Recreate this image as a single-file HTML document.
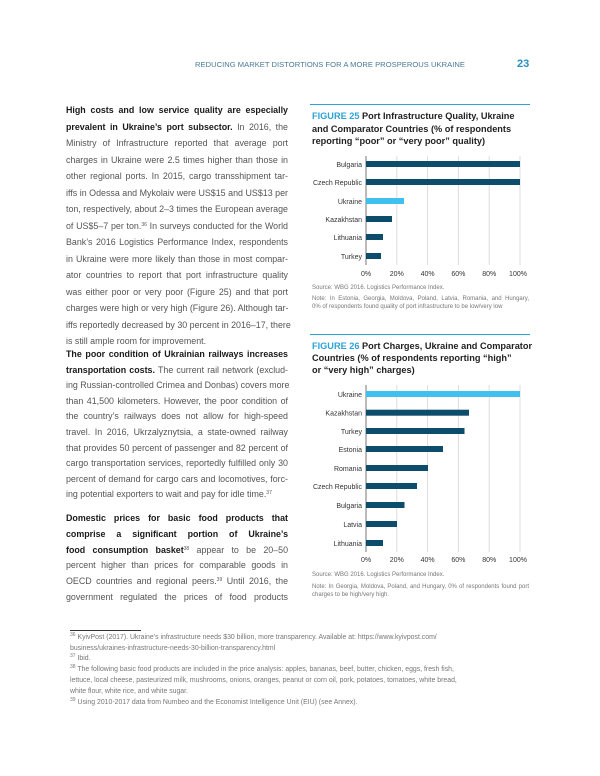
<!DOCTYPE html>
<html><head><meta charset="utf-8"><style>
body{margin:0;width:600px;height:776px;background:#fff;position:relative;overflow:hidden;font-family:"Liberation Sans",sans-serif}
.a{position:absolute;white-space:nowrap}
.l{position:absolute;left:66px;width:222px;font-size:8.9px;color:#555;text-align:justify;text-align-last:justify;white-space:nowrap;line-height:12px}
.l.e{text-align-last:left}
.l b{color:#1a1a1a}
.t{position:absolute;left:312px;width:218px;font-size:9.2px;font-weight:bold;color:#222;line-height:12px;white-space:nowrap}
.t span{color:#2ba3d6}
.s{position:absolute;left:312px;width:217px;font-size:6px;color:#777;white-space:nowrap;text-align:justify;text-align-last:justify}
.s.e{text-align-last:left}
.fn{position:absolute;left:70px;font-size:6.9px;color:#777;white-space:nowrap}
sup{font-size:5px;position:relative;top:-3px;vertical-align:baseline;line-height:0}
</style></head><body>
<div class="a" style="left:195px;top:60px;font-size:7.6px;letter-spacing:0.02px;color:#4a7a95">REDUCING MARKET DISTORTIONS FOR A MORE PROSPEROUS UKRAINE</div>
<div class="a" style="left:517px;top:58px;font-size:11px;font-weight:bold;color:#2a8fc0">23</div>

<div class="l" style="top:104px"><b>High costs and low service quality are especially</b></div>
<div class="l" style="top:120.5px"><b>prevalent in Ukraine’s port subsector.</b> In 2016, the</div>
<div class="l" style="top:137px">Ministry of Infrastructure reported that average port</div>
<div class="l" style="top:153.5px">charges in Ukraine were 2.5 times higher than those in</div>
<div class="l" style="top:170px">other regional ports. In 2015, cargo transshipment tar-</div>
<div class="l" style="top:186.5px">iffs in Odessa and Mykolaiv were US$15 and US$13 per</div>
<div class="l" style="top:203px">ton, respectively, about 2–3 times the European average</div>
<div class="l" style="top:219.5px">of US$5–7 per ton.<sup>36</sup> In surveys conducted for the World</div>
<div class="l" style="top:236px">Bank’s 2016 Logistics Performance Index, respondents</div>
<div class="l" style="top:252.5px">in Ukraine were more likely than those in most compar-</div>
<div class="l" style="top:269px">ator countries to report that port infrastructure quality</div>
<div class="l" style="top:285.5px">was either poor or very poor (Figure 25) and that port</div>
<div class="l" style="top:302px">charges were high or very high (Figure 26). Although tar-</div>
<div class="l" style="top:318.5px">iffs reportedly decreased by 30 percent in 2016–17, there</div>
<div class="l e" style="top:335px">is still ample room for improvement.</div>

<div class="l" style="top:348px"><b>The poor condition of Ukrainian railways increases</b></div>
<div class="l" style="top:363.6px"><b>transportation costs.</b> The current rail network (exclud-</div>
<div class="l" style="top:379.2px">ing Russian-controlled Crimea and Donbas) covers more</div>
<div class="l" style="top:394.8px">than 41,500 kilometers. However, the poor condition of</div>
<div class="l" style="top:410.4px">the country’s railways does not allow for high-speed</div>
<div class="l" style="top:426px">travel. In 2016, Ukrzalyznytsia, a state-owned railway</div>
<div class="l" style="top:441.6px">that provides 50 percent of passenger and 82 percent of</div>
<div class="l" style="top:457.2px">cargo transportation services, reportedly fulfilled only 30</div>
<div class="l" style="top:472.8px">percent of demand for cargo cars and locomotives, forc-</div>
<div class="l e" style="top:488.4px">ing potential exporters to wait and pay for idle time.<sup>37</sup></div>
<div class="l" style="top:512px"><b>Domestic prices for basic food products that</b></div>
<div class="l" style="top:527.8px"><b>comprise a significant portion of Ukraine’s</b></div>
<div class="l" style="top:543.6px"><b>food consumption basket</b><sup>38</sup> appear to be 20–50</div>
<div class="l" style="top:559.4px">percent higher than prices for comparable goods in</div>
<div class="l" style="top:575.2px">OECD countries and regional peers.<sup>39</sup> Until 2016, the</div>
<div class="l" style="top:591px">government regulated the prices of food products</div>

<!-- Figure 25 -->
<div class="a" style="left:310px;top:104px;width:220px;height:1px;background:#2ba3d6"></div>
<div class="t" style="top:110px"><span>FIGURE 25</span> Port Infrastructure Quality, Ukraine</div>
<div class="t" style="top:123px">and Comparator Countries (% of respondents</div>
<div class="t" style="top:135px">reporting “poor” or “very poor” quality)</div>
<svg class="a" style="left:300px;top:150px" width="240" height="132" font-family="Liberation Sans" font-size="7" fill="#333">
<g stroke="#ddd" stroke-width="1"><line x1="96.8" y1="6" x2="96.8" y2="115"/><line x1="127.6" y1="6" x2="127.6" y2="115"/><line x1="158.4" y1="6" x2="158.4" y2="115"/><line x1="189.2" y1="6" x2="189.2" y2="115"/><line x1="220" y1="6" x2="220" y2="115"/></g>
<line x1="66" y1="6" x2="66" y2="115" stroke="#555" stroke-width="0.8"/>
<g fill="#0e4c6c"><rect x="66" y="11" width="154" height="6"/><rect x="66" y="29" width="154" height="6"/><rect x="66" y="66" width="26" height="6"/><rect x="66" y="84" width="17" height="6"/><rect x="66" y="103" width="15" height="6"/></g>
<rect x="66" y="48" width="38" height="6" fill="#3fc0ee"/>
<g text-anchor="end"><text x="62" y="17">Bulgaria</text><text x="62" y="35">Czech Republic</text><text x="62" y="54">Ukraine</text><text x="62" y="72">Kazakhstan</text><text x="62" y="90">Lithuania</text><text x="62" y="109">Turkey</text></g>
<g text-anchor="middle"><text x="66" y="126">0%</text><text x="96.8" y="126">20%</text><text x="127.6" y="126">40%</text><text x="158.4" y="126">60%</text><text x="189.2" y="126">80%</text><text x="218" y="126">100%</text></g>
</svg>
<div class="s e" style="top:285px">Source: WBG 2016. Logistics Performance Index.</div>
<div class="s" style="top:296px">Note: In Estonia, Georgia, Moldova, Poland, Latvia, Romania, and Hungary,</div>
<div class="s e" style="top:304px">0% of respondents found quality of port infrastructure to be low/very low</div>

<!-- Figure 26 -->
<div class="a" style="left:310px;top:334px;width:220px;height:1px;background:#2ba3d6"></div>
<div class="t" style="top:340px"><span>FIGURE 26</span> Port Charges, Ukraine and Comparator</div>
<div class="t" style="top:352px">Countries (% of respondents reporting “high”</div>
<div class="t" style="top:364px">or “very high” charges)</div>
<svg class="a" style="left:300px;top:380px" width="240" height="185" font-family="Liberation Sans" font-size="7" fill="#333">
<g stroke="#ddd" stroke-width="1"><line x1="96.8" y1="5" x2="96.8" y2="172"/><line x1="127.6" y1="5" x2="127.6" y2="172"/><line x1="158.4" y1="5" x2="158.4" y2="172"/><line x1="189.2" y1="5" x2="189.2" y2="172"/><line x1="220" y1="5" x2="220" y2="172"/></g>
<line x1="66" y1="5" x2="66" y2="172" stroke="#555" stroke-width="0.8"/>
<rect x="66" y="11" width="154" height="6" fill="#3fc0ee"/>
<g fill="#0e4c6c"><rect x="66" y="29.7" width="103" height="6"/><rect x="66" y="48" width="98.5" height="6"/><rect x="66" y="66" width="77" height="6"/><rect x="66" y="85" width="62" height="6"/><rect x="66" y="103" width="51" height="6"/><rect x="66" y="122" width="38.5" height="6"/><rect x="66" y="141" width="31" height="6"/><rect x="66" y="160" width="17" height="6"/></g>
<g text-anchor="end"><text x="62" y="17">Ukraine</text><text x="62" y="35.7">Kazakhstan</text><text x="62" y="54">Turkey</text><text x="62" y="72">Estonia</text><text x="62" y="91">Romania</text><text x="62" y="109">Czech Republic</text><text x="62" y="128">Bulgaria</text><text x="62" y="147">Latvia</text><text x="62" y="166">Lithuania</text></g>
<g text-anchor="middle"><text x="66" y="182">0%</text><text x="96.8" y="182">20%</text><text x="127.6" y="182">40%</text><text x="158.4" y="182">60%</text><text x="189.2" y="182">80%</text><text x="218" y="182">100%</text></g>
</svg>
<div class="s e" style="top:572px">Source: WBG 2016. Logistics Performance Index.</div>
<div class="s" style="top:584px">Note: In Georgia, Moldova, Poland, and Hungary, 0% of respondents found port</div>
<div class="s e" style="top:592px">charges to be high/very high.</div>

<!-- footnotes -->
<div class="a" style="left:70px;top:630px;width:71px;height:1px;background:#333"></div>
<div class="fn" style="top:634px"><sup>36</sup> KyivPost (2017). Ukraine’s infrastructure needs $30 billion, more transparency. Available at: https://www.kyivpost.com/</div>
<div class="fn" style="top:645px">business/ukraines-infrastructure-needs-30-billion-transparency.html</div>
<div class="fn" style="top:655px"><sup>37</sup> Ibid.</div>
<div class="fn" style="top:666px"><sup>38</sup> The following basic food products are included in the price analysis: apples, bananas, beef, butter, chicken, eggs, fresh fish,</div>
<div class="fn" style="top:677px">lettuce, local cheese, pasteurized milk, mushrooms, onions, oranges, peanut or corn oil, pork, potatoes, tomatoes, white bread,</div>
<div class="fn" style="top:688px">white flour, white rice, and white sugar.</div>
<div class="fn" style="top:699px"><sup>39</sup> Using 2010-2017 data from Numbeo and the Economist Intelligence Unit (EIU) (see Annex).</div>
</body></html>
